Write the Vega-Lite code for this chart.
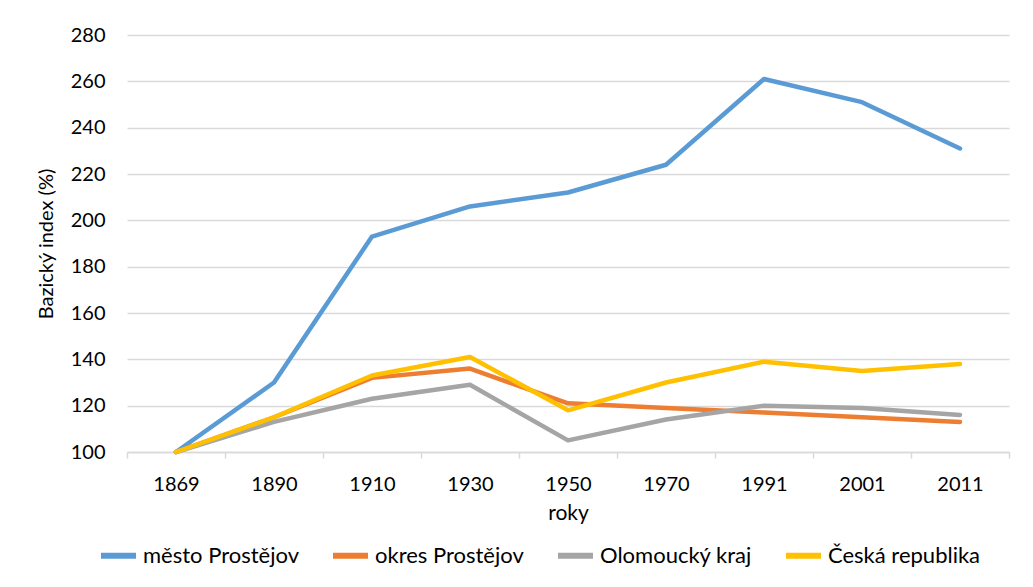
{
  "$schema": "https://vega.github.io/schema/vega-lite/v6.json",
  "width": 882,
  "height": 417,
  "autosize": {"type": "none"},
  "padding": {"left": 127, "top": 35, "right": 24, "bottom": 135},
  "background": "white",
  "data": {"values": [
    {"rok": "1869", "serie": "město Prostějov", "index": 100},
    {"rok": "1890", "serie": "město Prostějov", "index": 130},
    {"rok": "1910", "serie": "město Prostějov", "index": 193},
    {"rok": "1930", "serie": "město Prostějov", "index": 206},
    {"rok": "1950", "serie": "město Prostějov", "index": 212},
    {"rok": "1970", "serie": "město Prostějov", "index": 224},
    {"rok": "1991", "serie": "město Prostějov", "index": 261},
    {"rok": "2001", "serie": "město Prostějov", "index": 251},
    {"rok": "2011", "serie": "město Prostějov", "index": 231},
    {"rok": "1869", "serie": "okres Prostějov", "index": 100},
    {"rok": "1890", "serie": "okres Prostějov", "index": 115},
    {"rok": "1910", "serie": "okres Prostějov", "index": 132},
    {"rok": "1930", "serie": "okres Prostějov", "index": 136},
    {"rok": "1950", "serie": "okres Prostějov", "index": 121},
    {"rok": "1970", "serie": "okres Prostějov", "index": 119},
    {"rok": "1991", "serie": "okres Prostějov", "index": 117},
    {"rok": "2001", "serie": "okres Prostějov", "index": 115},
    {"rok": "2011", "serie": "okres Prostějov", "index": 113},
    {"rok": "1869", "serie": "Olomoucký kraj", "index": 100},
    {"rok": "1890", "serie": "Olomoucký kraj", "index": 113},
    {"rok": "1910", "serie": "Olomoucký kraj", "index": 123},
    {"rok": "1930", "serie": "Olomoucký kraj", "index": 129},
    {"rok": "1950", "serie": "Olomoucký kraj", "index": 105},
    {"rok": "1970", "serie": "Olomoucký kraj", "index": 114},
    {"rok": "1991", "serie": "Olomoucký kraj", "index": 120},
    {"rok": "2001", "serie": "Olomoucký kraj", "index": 119},
    {"rok": "2011", "serie": "Olomoucký kraj", "index": 116},
    {"rok": "1869", "serie": "Česká republika", "index": 100},
    {"rok": "1890", "serie": "Česká republika", "index": 115},
    {"rok": "1910", "serie": "Česká republika", "index": 133},
    {"rok": "1930", "serie": "Česká republika", "index": 141},
    {"rok": "1950", "serie": "Česká republika", "index": 118},
    {"rok": "1970", "serie": "Česká republika", "index": 130},
    {"rok": "1991", "serie": "Česká republika", "index": 139},
    {"rok": "2001", "serie": "Česká republika", "index": 135},
    {"rok": "2011", "serie": "Česká republika", "index": 138}
  ]},
  "mark": {"type": "line", "strokeWidth": 4.5, "strokeCap": "round", "strokeJoin": "round"},
  "encoding": {
    "x": {
      "field": "rok", "type": "ordinal", "title": "roky",
      "scale": {"type": "band", "paddingInner": 0, "paddingOuter": 0},
      "axis": {
        "labelAngle": 0, "labelFontSize": 20, "labelColor": "#000", "labelPadding": 16,
        "titleFontSize": 21, "titleFontWeight": "normal", "titleColor": "#000", "titlePadding": 8,
        "domainColor": "#D9D9D9", "domainWidth": 1.5, "tickColor": "#D9D9D9", "tickSize": 6, "tickWidth": 1.5,
        "tickBand": "extent", "grid": false
      }
    },
    "y": {
      "field": "index", "type": "quantitative", "title": "Bazický index (%)",
      "scale": {"domain": [100, 280], "nice": false, "zero": false},
      "axis": {
        "values": [100, 120, 140, 160, 180, 200, 220, 240, 260, 280],
        "labelFontSize": 20, "labelColor": "#000", "labelPadding": 22,
        "titleFontSize": 20, "titleFontWeight": "normal", "titleColor": "#000", "titlePadding": 14,
        "domain": false, "ticks": false,
        "gridColor": "#D9D9D9", "gridWidth": 1.5
      }
    },
    "color": {
      "field": "serie", "type": "nominal",
      "scale": {
        "domain": ["město Prostějov", "okres Prostějov", "Olomoucký kraj", "Česká republika"],
        "range": ["#5B9BD5", "#ED7D31", "#A5A5A5", "#FFC000"]
      },
      "legend": {
        "title": null, "orient": "none", "direction": "horizontal",
        "legendX": -29, "legendY": 500,
        "symbolType": "stroke", "symbolSize": 1225, "symbolStrokeWidth": 6,
        "labelFontSize": 22, "labelColor": "#000", "labelOffset": 4, "columnPadding": 22
      }
    }
  },
  "config": {
    "font": "Lato",
    "view": {"stroke": null},
    "axis": {"labelFont": "Lato", "titleFont": "Lato"},
    "legend": {"labelFont": "Lato"}
  }
}
